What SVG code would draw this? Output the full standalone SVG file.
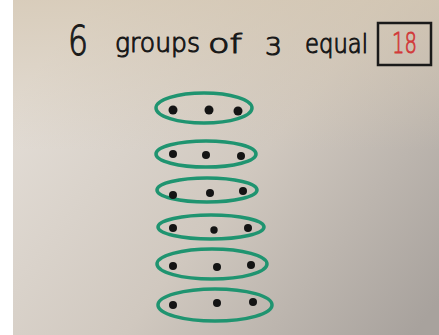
<svg xmlns="http://www.w3.org/2000/svg" width="439" height="335" viewBox="0 0 439 335">
<defs>
<linearGradient id="bg" x1="0" y1="0.3" x2="1" y2="0.9">
<stop offset="0" stop-color="#e3ddd6"/>
<stop offset="0.5" stop-color="#d0c8bf"/>
<stop offset="1" stop-color="#a8a29d"/>
</linearGradient>
<linearGradient id="warm" x1="0" y1="0" x2="0" y2="1">
<stop offset="0" stop-color="#d4c6b0" stop-opacity="0.7"/>
<stop offset="0.45" stop-color="#d4c6b0" stop-opacity="0"/>
</linearGradient>
<style>
.ring{fill:none;stroke:#1f9470;stroke-width:3.5}
.dot{fill:#141414}
.hw{font-family:"DejaVu Sans",sans-serif;font-weight:200;fill:#1a1a1a;stroke:#1a1a1a;stroke-width:1.1;stroke-linejoin:round}
.red{font-family:"DejaVu Sans",sans-serif;font-weight:200;fill:#d23a3a;stroke:#d23a3a;stroke-width:0.9}
</style>
</defs>
<rect x="0" y="0" width="439" height="335" fill="#ffffff"/>
<rect x="13" y="0" width="426" height="335" fill="url(#bg)"/>
<rect x="13" y="0" width="426" height="335" fill="url(#warm)"/>
<g id="title">
<text class="hw" x="68" y="55" font-size="40" textLength="20" lengthAdjust="spacingAndGlyphs">6</text>
<text class="hw" x="115" y="52" font-size="26" textLength="85" lengthAdjust="spacingAndGlyphs">groups</text>
<text class="hw" x="208" y="53" font-size="26" textLength="34" lengthAdjust="spacingAndGlyphs">of</text>
<text class="hw" x="265" y="55" font-size="25" textLength="17" lengthAdjust="spacingAndGlyphs">3</text>
<text class="hw" x="305" y="53" font-size="26" textLength="63" lengthAdjust="spacingAndGlyphs">equal</text>
</g>
<g id="answer">
<rect x="378" y="23" width="53" height="42" fill="none" stroke="#1a1a1a" stroke-width="2.5"/>
<text class="red" x="392" y="53" font-size="28" textLength="25" lengthAdjust="spacingAndGlyphs">18</text>
</g>
<g id="group1">
<ellipse class="ring" cx="204" cy="108" rx="48" ry="15"/>
<circle class="dot" cx="173" cy="110" r="4.5"/><circle class="dot" cx="209" cy="110" r="4.5"/><circle class="dot" cx="238" cy="111" r="4.5"/>
</g>
<g id="group2">
<ellipse class="ring" cx="206" cy="154" rx="50" ry="13"/>
<circle class="dot" cx="173" cy="154" r="4"/><circle class="dot" cx="206" cy="155" r="4"/><circle class="dot" cx="241" cy="156" r="4"/>
</g>
<g id="group3">
<ellipse class="ring" cx="207" cy="190" rx="50" ry="12"/>
<circle class="dot" cx="173" cy="195" r="4"/><circle class="dot" cx="210" cy="193" r="4"/><circle class="dot" cx="243" cy="191" r="4"/>
</g>
<g id="group4">
<ellipse class="ring" cx="211" cy="227" rx="53" ry="12"/>
<circle class="dot" cx="173" cy="228" r="4"/><circle class="dot" cx="214" cy="230" r="3.7"/><circle class="dot" cx="248" cy="228" r="4"/>
</g>
<g id="group5">
<ellipse class="ring" cx="212" cy="264" rx="55" ry="15"/>
<circle class="dot" cx="173" cy="266" r="4"/><circle class="dot" cx="217" cy="267" r="4"/><circle class="dot" cx="251" cy="265" r="4"/>
</g>
<g id="group6">
<ellipse class="ring" cx="215" cy="305" rx="57" ry="16"/>
<circle class="dot" cx="173" cy="305" r="4"/><circle class="dot" cx="217" cy="303" r="4"/><circle class="dot" cx="253" cy="302" r="4"/>
</g>
<g id="connectors"/>
</svg>
